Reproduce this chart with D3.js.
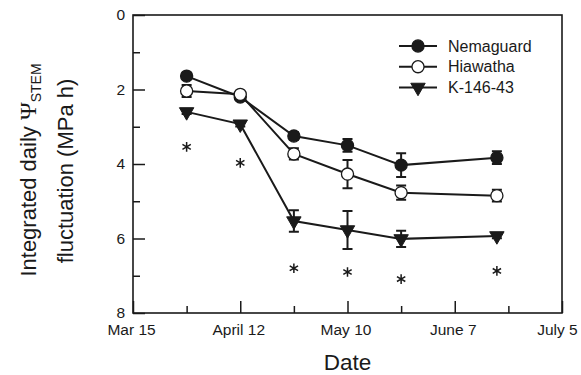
<!DOCTYPE html>
<html>
<head>
<meta charset="utf-8">
<script src="https://cdn.jsdelivr.net/npm/d3@7"></script>
<style>
  body { margin: 0; background: #fff; }
  text { font-family: "Liberation Sans", Arial, sans-serif; fill: #1a1a1a; }
</style>
</head>
<body>
<svg id="chart" width="581" height="375"></svg>
<script>
var dates = ["2005-03-29", "2005-04-12", "2005-04-26", "2005-05-10", "2005-05-24", "2005-06-18"];

var nemaguard    = [1.64, 2.20, 3.25, 3.50, 4.03, 3.83];
var nemaguardErr = [0.08, 0.06, 0.10, 0.17, 0.32, 0.17];
var hiawatha     = [2.04, 2.13, 3.73, 4.27, 4.77, 4.85];
var hiawathaErr  = [0.16, 0.06, 0.15, 0.38, 0.19, 0.16];
var k14643       = [2.60, 2.93, 5.53, 5.77, 6.01, 5.93];
var k14643Err    = [0.06, 0.06, 0.29, 0.51, 0.22, 0.06];

// significance asterisks (date, y position in data units)
var starDates = ["2005-03-29", "2005-04-12", "2005-04-26", "2005-05-10", "2005-05-24", "2005-06-18"];
var starY     = [3.54, 3.97, 6.80, 6.90, 7.09, 6.87];

var xTickDates  = ["2005-03-15", "2005-03-29", "2005-04-12", "2005-04-26", "2005-05-10",
                   "2005-05-24", "2005-06-07", "2005-06-21", "2005-07-05"];
var xTickLabels = ["Mar 15", "", "April 12", "", "May 10", "", "June 7", "", "July 5"];
var yTicks = [0, 1, 2, 3, 4, 5, 6, 7, 8];

var parse = d3.timeParse("%Y-%m-%d");

var series = [
  { name: "Nemaguard", y: nemaguard, err: nemaguardErr, symbol: "circle", fill: "#1a1a1a" },
  { name: "Hiawatha",  y: hiawatha,  err: hiawathaErr,  symbol: "circle", fill: "#fff" },
  { name: "K-146-43",  y: k14643,    err: k14643Err,    symbol: "tri",    fill: "#1a1a1a" }
];

var svg = d3.select("#chart"),
    margin = { left: 133, right: 19, top: 15, bottom: 62 },
    W = 581 - margin.left - margin.right,
    H = 375 - margin.top - margin.bottom,
    ink = "#1a1a1a";

var x = d3.scaleTime()
    .domain([parse(xTickDates[0]), parse(xTickDates[xTickDates.length - 1])])
    .range([0, W]);
var y = d3.scaleLinear().domain([0, 8]).range([0, H]);

var g = svg.append("g").attr("transform", "translate(" + margin.left + "," + margin.top + ")");

// axes, ticks drawn inward
var xAxis = d3.axisBottom(x)
    .tickValues(xTickDates.map(parse))
    .tickSizeOuter(0)
    .tickSizeInner(0)
    .tickFormat((d, i) => xTickLabels[i]);
var xg = g.append("g").attr("transform", "translate(0," + H + ")").call(xAxis);
xg.select(".domain").remove();
xg.selectAll(".tick line")
    .attr("y2", (d, i) => xTickLabels[i] ? -12 : -7)
    .attr("stroke", ink).attr("stroke-width", 1.5);
xg.selectAll(".tick text")
    .attr("y", 11).attr("dy", "0.71em")
    .attr("dx", (d, i) => i === xTickLabels.length - 1 ? -5 : -2)
    .style("font-size", "15.5px").style("font-family", "Liberation Sans, Arial, sans-serif")
    .attr("fill", ink);

var yAxis = d3.axisLeft(y)
    .tickValues(yTicks)
    .tickSizeOuter(0)
    .tickSizeInner(0)
    .tickFormat(d => d % 2 === 0 ? d : "");
var yg = g.append("g").call(yAxis);
yg.select(".domain").remove();
yg.selectAll(".tick line")
    .attr("x2", d => d % 2 === 0 ? 12 : 7)
    .attr("stroke", ink).attr("stroke-width", 1.5);
yg.selectAll(".tick text")
    .attr("x", -8)
    .style("font-size", "15.5px").style("font-family", "Liberation Sans, Arial, sans-serif")
    .attr("fill", ink);

// frame
g.append("rect")
    .attr("width", W).attr("height", H)
    .attr("fill", "none").attr("stroke", ink).attr("stroke-width", 1.6);

var line = d3.line()
    .x((d, i) => x(parse(dates[i])))
    .y(d => y(d));

var circle = d3.symbol().type(d3.symbolCircle).size(115);
var tri = d3.symbol().type(d3.symbolTriangle).size(90);

function drawMarker(sel, s) {
  if (s.symbol === "circle") {
    sel.append("path").attr("d", circle())
      .attr("fill", s.fill).attr("stroke", ink).attr("stroke-width", 1.3);
  } else {
    sel.append("path").attr("d", tri()).attr("transform", "rotate(180)")
      .attr("fill", s.fill).attr("stroke", ink).attr("stroke-width", 1);
  }
}

series.forEach(function(s) {
  var sg = g.append("g");
  // error bars
  var eb = sg.selectAll(".err").data(s.y).enter().append("g")
      .attr("transform", (d, i) => "translate(" + x(parse(dates[i])) + ",0)");
  eb.append("path")
      .attr("d", (d, i) => {
        var lo = y(d - s.err[i]), hi = y(d + s.err[i]);
        return "M0," + lo + "V" + hi + "M-5," + lo + "H5M-5," + hi + "H5";
      })
      .attr("stroke", ink).attr("stroke-width", 2).attr("fill", "none");
  sg.append("path").datum(s.y)
      .attr("d", line)
      .attr("fill", "none").attr("stroke", ink).attr("stroke-width", 2);
  sg.selectAll(".pt").data(s.y).enter().append("g")
      .attr("transform", (d, i) => "translate(" + x(parse(dates[i])) + "," + y(d) + ")")
      .each(function() { drawMarker(d3.select(this), s); });
});

// asterisks
var star = d3.symbol().type(d3.symbolAsterisk).size(65);
g.selectAll(".star").data(starY).enter().append("path")
    .attr("d", star())
    .attr("transform", (d, i) => "translate(" + x(parse(starDates[i])) + "," + y(d) + ")")
    .attr("fill", "none").attr("stroke", ink).attr("stroke-width", 1.5);

// legend
var leg = svg.append("g").attr("transform", "translate(399,46)");
series.forEach(function(s, i) {
  var r = leg.append("g").attr("transform", "translate(0," + (i * 20.7) + ")");
  r.append("line").attr("x1", 0).attr("x2", 38)
      .attr("stroke", ink).attr("stroke-width", 2);
  var m = r.append("g").attr("transform", "translate(19,0)");
  drawMarker(m, s);
  r.append("text").attr("x", 49).attr("dy", "0.35em")
      .style("font-size", "16px").text(s.name);
});

// axis titles
svg.append("text")
    .attr("x", margin.left + W / 2).attr("y", 370)
    .attr("text-anchor", "middle")
    .style("font-size", "22.5px").text("Date");

var yt = svg.append("text")
    .attr("transform", "translate(36,170) rotate(-90)")
    .attr("text-anchor", "middle")
    .style("font-size", "22px");
yt.append("tspan").text("Integrated daily ");
yt.append("tspan").style("font-family", "Liberation Serif, serif").style("font-size", "24px").text("\u03A8");
yt.append("tspan").attr("dy", 5).style("font-size", "14px").text("STEM");

svg.append("text")
    .attr("transform", "translate(73,171) rotate(-90)")
    .attr("text-anchor", "middle")
    .style("font-size", "22px").text("fluctuation (MPa h)");
</script>
</body>
</html>
